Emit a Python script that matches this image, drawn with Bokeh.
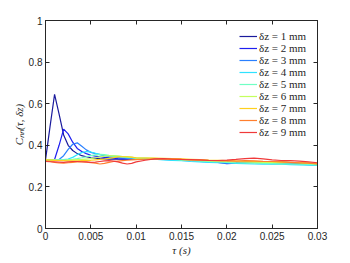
from bokeh.plotting import figure
from bokeh.models import Range1d, LinearAxis, FixedTicker, Legend, LegendItem
from bokeh.embed import file_html
from bokeh.resources import INLINE

tau = [0.0, 0.0005, 0.001, 0.0015, 0.002, 0.0025, 0.003, 0.0035, 0.004, 0.0045, 0.005,
       0.0055, 0.006, 0.0065, 0.007, 0.0075, 0.008, 0.0085, 0.009, 0.0095, 0.01,
       0.011, 0.012, 0.013, 0.014, 0.015, 0.016, 0.017, 0.018, 0.019, 0.02,
       0.021, 0.022, 0.023, 0.024, 0.025, 0.026, 0.027, 0.028, 0.029, 0.03]

c1 = [0.330, 0.490, 0.645, 0.550, 0.450, 0.400, 0.375, 0.360, 0.350, 0.345, 0.340,
      0.338, 0.336, 0.335, 0.334, 0.334, 0.333, 0.334, 0.335, 0.334, 0.333,
      0.334, 0.333, 0.332, 0.333, 0.331, 0.330, 0.328, 0.326, 0.325, 0.320,
      0.315, 0.318, 0.322, 0.320, 0.318, 0.320, 0.317, 0.314, 0.312, 0.308]
c2 = [0.330, 0.330, 0.332, 0.400, 0.478, 0.455, 0.415, 0.385, 0.370, 0.360, 0.352,
      0.348, 0.345, 0.342, 0.340, 0.338, 0.336, 0.335, 0.334, 0.333, 0.333,
      0.333, 0.332, 0.333, 0.331, 0.330, 0.328, 0.326, 0.322, 0.318, 0.312,
      0.314, 0.320, 0.322, 0.318, 0.316, 0.318, 0.315, 0.312, 0.310, 0.306]
c3 = [0.330, 0.330, 0.330, 0.332, 0.350, 0.380, 0.405, 0.412, 0.395, 0.378, 0.366,
      0.360, 0.355, 0.350, 0.346, 0.343, 0.341, 0.339, 0.337, 0.336, 0.335,
      0.334, 0.333, 0.332, 0.330, 0.328, 0.326, 0.323, 0.320, 0.318, 0.316,
      0.317, 0.318, 0.316, 0.314, 0.312, 0.313, 0.311, 0.309, 0.307, 0.304]
c4 = [0.330, 0.330, 0.330, 0.330, 0.331, 0.334, 0.342, 0.355, 0.365, 0.370, 0.368,
      0.362, 0.356, 0.352, 0.350, 0.347, 0.345, 0.343, 0.341, 0.339, 0.337,
      0.335, 0.333, 0.330, 0.328, 0.326, 0.322, 0.320, 0.318, 0.316, 0.315,
      0.313, 0.312, 0.310, 0.309, 0.311, 0.309, 0.307, 0.306, 0.305, 0.303]
c5 = [0.330, 0.330, 0.330, 0.330, 0.330, 0.331, 0.333, 0.336, 0.340, 0.345, 0.350,
      0.354, 0.356, 0.355, 0.352, 0.350, 0.348, 0.346, 0.344, 0.342, 0.340,
      0.338, 0.336, 0.334, 0.332, 0.330, 0.327, 0.324, 0.322, 0.320, 0.318,
      0.316, 0.315, 0.314, 0.313, 0.312, 0.311, 0.310, 0.309, 0.308, 0.306]
c6 = [0.330, 0.330, 0.329, 0.328, 0.328, 0.329, 0.330, 0.331, 0.332, 0.334, 0.336,
      0.340, 0.345, 0.348, 0.350, 0.349, 0.348, 0.346, 0.344, 0.342, 0.340,
      0.339, 0.337, 0.335, 0.333, 0.331, 0.329, 0.327, 0.325, 0.324, 0.322,
      0.321, 0.320, 0.319, 0.318, 0.318, 0.317, 0.316, 0.315, 0.313, 0.311]
c7 = [0.330, 0.329, 0.328, 0.327, 0.326, 0.325, 0.325, 0.325, 0.326, 0.327, 0.328,
      0.330, 0.332, 0.334, 0.337, 0.341, 0.344, 0.345, 0.345, 0.343, 0.340,
      0.339, 0.338, 0.337, 0.336, 0.335, 0.333, 0.331, 0.329, 0.328, 0.327,
      0.325, 0.324, 0.323, 0.322, 0.321, 0.320, 0.318, 0.316, 0.314, 0.312]
c8 = [0.325, 0.322, 0.318, 0.315, 0.314, 0.316, 0.318, 0.320, 0.320, 0.319, 0.317,
      0.314, 0.310, 0.313, 0.318, 0.322, 0.324, 0.326, 0.328, 0.330, 0.331,
      0.333, 0.334, 0.334, 0.333, 0.332, 0.330, 0.329, 0.327, 0.326, 0.325,
      0.324, 0.326, 0.325, 0.323, 0.322, 0.320, 0.318, 0.316, 0.314, 0.310]
c9 = [0.322, 0.321, 0.320, 0.319, 0.318, 0.320, 0.322, 0.322, 0.321, 0.320, 0.318,
      0.319, 0.322, 0.325, 0.326, 0.324, 0.320, 0.314, 0.310, 0.313, 0.320,
      0.328, 0.335, 0.336, 0.334, 0.332, 0.331, 0.330, 0.328, 0.327, 0.329,
      0.332, 0.336, 0.338, 0.335, 0.330, 0.327, 0.326, 0.324, 0.320, 0.316]

series = [c1, c2, c3, c4, c5, c6, c7, c8, c9]
labels = ["δz = 1 mm", "δz = 2 mm", "δz = 3 mm", "δz = 4 mm", "δz = 5 mm",
          "δz = 6 mm", "δz = 7 mm", "δz = 8 mm", "δz = 9 mm"]
colors = ["#1a1a9c", "#1f1ff0", "#2a80ff", "#2ee2ff", "#70ffc4",
          "#c4ff5e", "#ffd01e", "#ff7f2e", "#f03a3a"]

x_ticks = [0, 0.005, 0.01, 0.015, 0.02, 0.025, 0.03]
x_tick_labels = ["0", "0.005", "0.01", "0.015", "0.02", "0.025", "0.03"]
y_ticks = [0, 0.2, 0.4, 0.6, 0.8, 1]
y_tick_labels = ["0", "0.2", "0.4", "0.6", "0.8", "1"]

AX = "#262626"

p = figure(width=342, height=258, output_backend="svg", toolbar_location=None,
           x_range=Range1d(0, 0.03), y_range=Range1d(0, 1),
           min_border_left=45, min_border_right=25, min_border_top=20, min_border_bottom=28)
p.outline_line_color = AX
p.xgrid.visible = False
p.ygrid.visible = False

renderers = []
for s, c in zip(series, colors):
    r = p.line(tau, s, line_color=c, line_width=1.2)
    renderers.append(r)

def style_axis(ax, ticks, tick_labels, show_labels):
    ax.ticker = FixedTicker(ticks=ticks)
    ax.major_tick_in = 4
    ax.major_tick_out = 0
    ax.minor_tick_line_color = None
    ax.axis_line_color = AX
    ax.major_tick_line_color = AX
    if show_labels:
        ax.major_label_overrides = {t: l for t, l in zip(ticks, tick_labels)}
        ax.major_label_text_font = "Liberation Sans"
        ax.major_label_text_font_size = "10px"
        ax.major_label_text_color = AX
        ax.major_label_standoff = 3
    else:
        ax.major_label_text_font_size = "0px"
        ax.major_label_text_color = None
        ax.major_label_standoff = 0

style_axis(p.xaxis[0], x_ticks, x_tick_labels, True)
style_axis(p.yaxis[0], y_ticks, y_tick_labels, True)
p.xaxis[0].axis_label = "τ (s)"
p.yaxis[0].axis_label = "Cₙₙ(τ, δz)"
for ax in (p.xaxis[0], p.yaxis[0]):
    ax.axis_label_text_font = "Liberation Serif"
    ax.axis_label_text_font_style = "italic"
    ax.axis_label_text_font_size = "11px"
    ax.axis_label_text_color = AX
    ax.axis_label_standoff = 1

top = LinearAxis()
right = LinearAxis()
style_axis(top, x_ticks, x_tick_labels, False)
style_axis(right, y_ticks, y_tick_labels, False)
p.add_layout(top, "above")
p.add_layout(right, "right")

legend = Legend(items=[LegendItem(label=l, renderers=[r]) for l, r in zip(labels, renderers)],
                location=(194, 90))
legend.padding = 0
legend.margin = 0
legend.spacing = 0
legend.glyph_width = 18
legend.glyph_height = 12
legend.label_height = 12
legend.label_standoff = 2
legend.border_line_alpha = 0
legend.background_fill_alpha = 0
legend.label_text_font = "Liberation Serif"
legend.label_text_font_size = "11px"
legend.label_text_color = AX
p.add_layout(legend, "center")

open("out.html", "w").write(file_html(p, INLINE))
